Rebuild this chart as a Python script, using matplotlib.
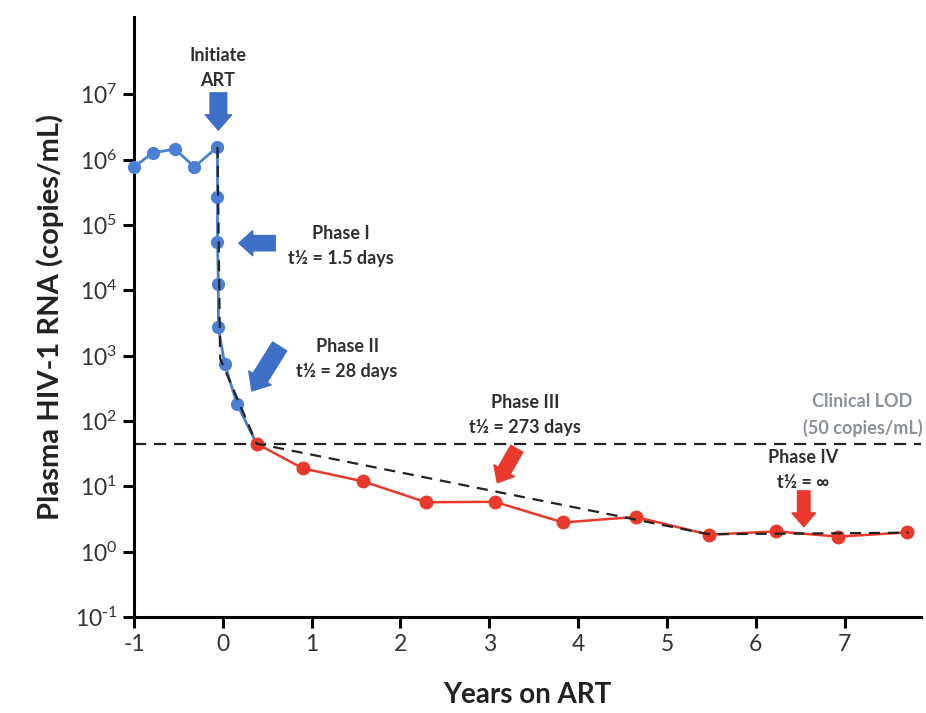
import numpy as np
import matplotlib
matplotlib.use("Agg")
import matplotlib.pyplot as plt
from matplotlib.patches import FancyArrowPatch

plt.rcParams['font.family'] = ['Lato', 'DejaVu Sans']
plt.rcParams['axes.unicode_minus'] = False

# pre-ART and phase I/II samples (blue)
blue_x = [-1.0, -0.79, -0.54, -0.32, -0.06, -0.06, -0.06, -0.05, -0.05, 0.02, 0.16, 0.38]
blue_y = [7.7e5, 1.26e6, 1.45e6, 7.7e5, 1.56e6, 2.7e5, 5.5e4, 1.26e4, 2.7e3, 750, 182, 45]

# on-ART samples below the LOD (red)
red_x = [0.38, 0.90, 1.58, 2.29, 3.06, 3.83, 4.65, 5.47, 6.23, 6.93, 7.70]
red_y = [45, 18.8, 11.9, 5.7, 5.8, 2.8, 3.4, 1.82, 2.04, 1.7, 1.97]

# decay-phase fits (dashed)
fit_x = [-0.06, -0.03, 0.38, 5.47, 7.72]
fit_y = [1.56e6, 9.0e2, 45, 1.85, 1.95]

lod = 45
x_ticks = [-1, 0, 1, 2, 3, 4, 5, 6, 7]
y_exp = [-1, 0, 1, 2, 3, 4, 5, 6, 7]

blue = '#4a7fd3'
blue_arrow = '#3d6fc6'
red = '#e8392c'
txt = '#2e2e2e'

fig = plt.figure(figsize=(9.26, 7.13), dpi=100)
ax = fig.add_axes([0.1447, 0.1346, 0.8499, 0.8415])

ax.axhline(lod, color='#222222', lw=1.6, ls=(0, (5.5, 3.5)), zorder=1)
ax.plot(fit_x, fit_y, color='#222222', lw=1.6, ls=(0, (5, 3.5)), zorder=4)
ax.plot(blue_x, blue_y, color=blue, lw=2, marker='o', ms=8.5, zorder=3, clip_on=False)
ax.plot(red_x, red_y, color=red, lw=1.8, marker='o', ms=9, zorder=3, clip_on=False)

ax.set_yscale('log')
ax.set_ylim(0.1, 10 ** 8.18)
ax.set_xlim(-1, 7.86)
ax.set_xticks(x_ticks)
ax.set_xticklabels([str(t) for t in x_ticks])
ax.set_yticks([10.0 ** e for e in y_exp])
ax.set_yticklabels([r'$\mathdefault{10^{%s}}$' % (r'\text{-}1' if e < 0 else e) for e in y_exp])
ax.yaxis.set_minor_locator(matplotlib.ticker.NullLocator())

for s in ['top', 'right']:
    ax.spines[s].set_visible(False)
for s in ['left', 'bottom']:
    ax.spines[s].set_linewidth(2.2)
ax.tick_params(axis='both', length=8, width=2.2, labelsize=16.5, labelcolor='#333333', pad=4)

ax.set_xlabel('Years on ART', fontsize=20, fontweight='bold', color='#222222', labelpad=20)
ax.set_ylabel('Plasma HIV-1 RNA (copies/mL)', fontsize=21, fontweight='bold',
              color='#222222', labelpad=8)


def block_arrow(start, end, color, tail=11, head=19, hlen=10):
    style = 'simple,head_length=%g,head_width=%g,tail_width=%g' % (hlen, head, tail)
    a = FancyArrowPatch(start, end, arrowstyle=style, color=color,
                        shrinkA=0, shrinkB=0, mutation_scale=1, zorder=5)
    ax.add_patch(a)


block_arrow((-0.05, 10 ** 7.02), (-0.05, 10 ** 6.45), blue_arrow, tail=12, head=19, hlen=11)
block_arrow((0.59, 10 ** 4.72), (0.18, 10 ** 4.72), blue_arrow, tail=11, head=18, hlen=10)
block_arrow((0.64, 10 ** 3.14), (0.327, 10 ** 2.46), blue_arrow, tail=12, head=19, hlen=11)
block_arrow((3.31, 10 ** 1.575), (3.09, 10 ** 1.055), red, tail=10, head=17, hlen=10)
block_arrow((6.54, 10 ** 0.93), (6.54, 10 ** 0.38), red, tail=9, head=17, hlen=10)

kw = dict(ha='center', va='center', fontsize=13, fontweight='bold', color=txt,
          linespacing=1.55, zorder=6)
ax.text(-0.056, 10 ** 7.40, 'Initiate\nART', **kw)
ax.text(1.33, 10 ** 4.68, 'Phase I\nt½ = 1.5 days', **kw)
ax.text(1.40, 10 ** 2.95, 'Phase II\nt½ = 28 days', **kw)
ax.text(3.40, 10 ** 2.09, 'Phase III\nt½ = 273 days', **kw)
ax.text(6.53, 10 ** 1.25, 'Phase IV\nt½ = ∞', **kw)
kw['color'] = '#8c9099'
ax.text(7.20, 10 ** 2.09, 'Clinical LOD\n(50 copies/mL)', **kw)

fig.savefig('out.png', dpi=100)
